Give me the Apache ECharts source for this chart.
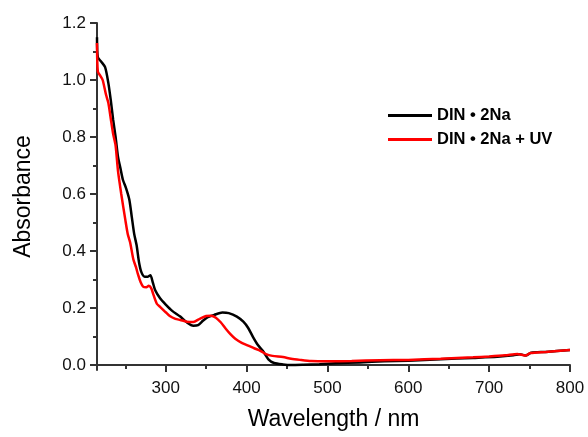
<!DOCTYPE html>
<html>
<head>
<meta charset="utf-8">
<script src="https://cdn.jsdelivr.net/npm/echarts@6/dist/echarts.min.js"></script>
<style>html,body{margin:0;padding:0;background:#fff;}#c{width:588px;height:437px;}</style>
</head>
<body>
<div id="c"></div>
<script>
const seriesNames = ['DIN • 2Na', 'DIN • 2Na + UV'];

const wlBlack = [215,216,220,225,229,232,235,238,241,244,247,251,255,258,261,264,267,270,274,278,281,284,287,293,300,308,318,326,334,340,346,352,360,370,378,388,396,402,408,414,420,427,434,445,455,470,490,510,540,570,600,640,680,710,730,738,745,752,770,800];
const absBlack = [1.15,1.08,1.065,1.045,0.99,0.93,0.86,0.80,0.73,0.69,0.65,0.62,0.58,0.52,0.46,0.42,0.36,0.325,0.31,0.31,0.315,0.29,0.262,0.234,0.212,0.19,0.17,0.15,0.138,0.140,0.155,0.168,0.176,0.184,0.182,0.170,0.152,0.13,0.098,0.07,0.05,0.02,0.007,0.002,0.0,0.001,0.003,0.006,0.009,0.013,0.015,0.020,0.025,0.029,0.034,0.038,0.033,0.043,0.046,0.053];

const wlRed = [215,216,219,222,226,229,232,235,238,241,245,250,253,256,260,263,266,269,272,276,279,282,285,289,293,300,305,312,318,326,334,342,350,356,362,368,374,380,386,394,402,410,417,424,432,445,455,466,480,500,530,565,600,640,680,700,720,735,740,745,751,770,800];
const absRed = [1.13,1.03,1.015,1.0,0.95,0.92,0.865,0.81,0.77,0.68,0.60,0.51,0.46,0.43,0.37,0.345,0.315,0.29,0.275,0.273,0.278,0.27,0.245,0.215,0.204,0.185,0.172,0.162,0.158,0.152,0.151,0.162,0.172,0.173,0.166,0.150,0.128,0.108,0.092,0.078,0.068,0.058,0.05,0.038,0.032,0.028,0.022,0.018,0.014,0.013,0.014,0.017,0.018,0.022,0.027,0.030,0.034,0.039,0.036,0.033,0.042,0.046,0.053];

const xMajorTicks = [300,400,500,600,700,800];
const xMinorTicks = [250,350,450,550,650,750];
const yMajorTicks = [0,0.2,0.4,0.6,0.8,1.0,1.2];
const yMinorTicks = [0.1,0.3,0.5,0.7,0.9,1.1];

const FONT = '"Liberation Sans", Arial, sans-serif';
const AX = '#333';
const gridBox = {left:97, right:18, top:23, bottom:67};

const chart = echarts.init(document.getElementById('c'), null, {renderer:'canvas'});
chart.setOption({
  animation:false,
  backgroundColor:'#fff',
  grid:[Object.assign({}, gridBox), Object.assign({}, gridBox)],
  legend:{
    data:seriesNames, orient:'vertical', left:383, top:102,
    itemWidth:44, itemHeight:3, icon:'rect', itemGap:7,
    textStyle:{fontFamily:FONT, fontSize:16.5, fontWeight:'bold', color:'#000'}
  },
  xAxis:[
    {type:'value', gridIndex:0, min:215, max:800,
     axisLine:{show:true, lineStyle:{color:AX, width:2}},
     axisTick:{show:true, inside:false, length:7, customValues:xMajorTicks, lineStyle:{color:AX, width:2}},
     axisLabel:{customValues:xMajorTicks, fontFamily:FONT, fontSize:17, color:'#111', margin:10},
     splitLine:{show:false},
     name:'Wavelength / nm', nameLocation:'middle', nameGap:38,
     nameTextStyle:{fontFamily:FONT, fontSize:23, color:'#000'}},
    {type:'value', gridIndex:1, min:215, max:800,
     axisLine:{show:false},
     axisTick:{show:true, inside:false, length:4, customValues:xMinorTicks, lineStyle:{color:AX, width:2}},
     axisLabel:{show:false}, splitLine:{show:false}}
  ],
  yAxis:[
    {type:'value', gridIndex:0, min:-0.0175, max:1.2,
     axisLine:{show:true, lineStyle:{color:AX, width:2}},
     axisTick:{show:true, inside:false, length:7, customValues:yMajorTicks, lineStyle:{color:AX, width:2}},
     axisLabel:{customValues:yMajorTicks, fontFamily:FONT, fontSize:17, color:'#111', margin:11,
       formatter:function(v){return Number(v).toFixed(1);}},
     splitLine:{show:false},
     name:'Absorbance', nameLocation:'middle', nameGap:62,
     nameTextStyle:{fontFamily:FONT, fontSize:23, color:'#000'}},
    {type:'value', gridIndex:1, min:-0.0175, max:1.2,
     axisLine:{show:false},
     axisTick:{show:true, inside:false, length:4, customValues:yMinorTicks, lineStyle:{color:AX, width:2}},
     axisLabel:{show:false}, splitLine:{show:false}}
  ],
  series:[
    {name:seriesNames[0], type:'line', xAxisIndex:0, yAxisIndex:0, showSymbol:false, smooth:0.25,
     lineStyle:{color:'#000', width:2.5}, itemStyle:{color:'#000'}, z:2,
     data:wlBlack.map((w,i)=>[w, absBlack[i]])},
    {name:seriesNames[1], type:'line', xAxisIndex:0, yAxisIndex:0, showSymbol:false, smooth:0.25,
     lineStyle:{color:'#ff0000', width:2.5}, itemStyle:{color:'#ff0000'}, z:3,
     data:wlRed.map((w,i)=>[w, absRed[i]])}
  ]
});
</script>
</body>
</html>
